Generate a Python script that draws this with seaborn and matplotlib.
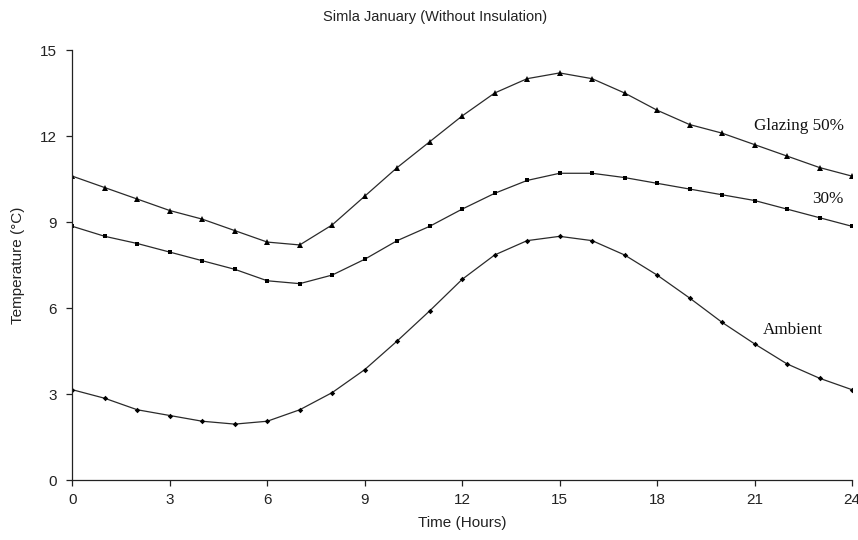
import matplotlib
matplotlib.use("Agg")
import matplotlib.pyplot as plt
import numpy as np
import pandas as pd
import seaborn as sns

# Hourly temperatures, Simla in January, room without insulation
hours = list(range(25))
glazing_50 = [10.6, 10.2, 9.8, 9.4, 9.1, 8.7, 8.3, 8.2, 8.9, 9.9, 10.9, 11.8, 12.7,
              13.5, 14.0, 14.2, 14.0, 13.5, 12.9, 12.4, 12.1, 11.7, 11.3, 10.9, 10.6]
glazing_30 = [8.85, 8.5, 8.25, 7.95, 7.65, 7.35, 6.95, 6.85, 7.15, 7.7, 8.35, 8.85, 9.45,
              10.0, 10.45, 10.7, 10.7, 10.55, 10.35, 10.15, 9.95, 9.75, 9.45, 9.15, 8.85]
ambient = [3.15, 2.85, 2.45, 2.25, 2.05, 1.95, 2.05, 2.45, 3.05, 3.85, 4.85, 5.9, 7.0,
           7.85, 8.35, 8.5, 8.35, 7.85, 7.15, 6.35, 5.5, 4.75, 4.05, 3.55, 3.15]

series_names = ["Glazing 50%", "30%", "Ambient"]
series_values = [glazing_50, glazing_30, ambient]
series_markers = ["^", "s", "D"]
marker_sizes = [4.0, 3.2, 2.8]
label_pos = [(22.37, 12.35), (23.27, 9.79), (22.19, 5.23)]

x_ticks = [0, 3, 6, 9, 12, 15, 18, 21, 24]
y_ticks = [0, 3, 6, 9, 12, 15]

df = pd.DataFrame({
    "Hour": hours * len(series_names),
    "Temperature": sum(series_values, []),
    "Series": sum([[n] * len(hours) for n in series_names], []),
})

sns.set_style("white")
plt.rcParams["font.family"] = ["Liberation Sans", "DejaVu Sans"]

fig = plt.figure(figsize=(8.58, 5.40), dpi=100)
ax = fig.add_axes([0.0843, 0.1111, 0.9087, 0.7963])

line_color = "#2a2a2a"
for name, mk, ms in zip(series_names, series_markers, marker_sizes):
    sns.lineplot(data=df[df["Series"] == name], x="Hour", y="Temperature",
                 ax=ax, color=line_color, linewidth=0.9, marker=mk,
                 markersize=ms, markeredgewidth=0, markerfacecolor="black",
                 legend=False)

for name, (lx, ly) in zip(series_names, label_pos):
    ax.text(lx, ly, name, family=["Liberation Serif", "DejaVu Serif"],
            fontsize=12.3, ha="center", va="center", color="#111111")

ax.set_xlim(0, 24)
ax.set_ylim(0, 15)
ax.set_xticks(x_ticks)
ax.set_yticks(y_ticks)
ax.tick_params(axis="both", which="major", direction="out", length=4,
               width=0.9, color="#222222", labelsize=11, labelcolor="#222222")
ax.tick_params(axis="x", bottom=True, pad=5)
ax.tick_params(axis="y", left=True, pad=7)
for side in ["top", "right"]:
    ax.spines[side].set_visible(False)
for side in ["left", "bottom"]:
    ax.spines[side].set_color("#222222")
    ax.spines[side].set_linewidth(0.9)

ax.set_xlabel("Time (Hours)", fontsize=11, color="#222222", labelpad=7)
ax.set_ylabel("Temperature (°C)", fontsize=11, color="#222222", labelpad=11)
fig.text(0.5076, 0.9685, "Simla January (Without Insulation)", fontsize=10.5,
         ha="center", va="center", color="#222222")

fig.savefig("out.png", dpi=100)
